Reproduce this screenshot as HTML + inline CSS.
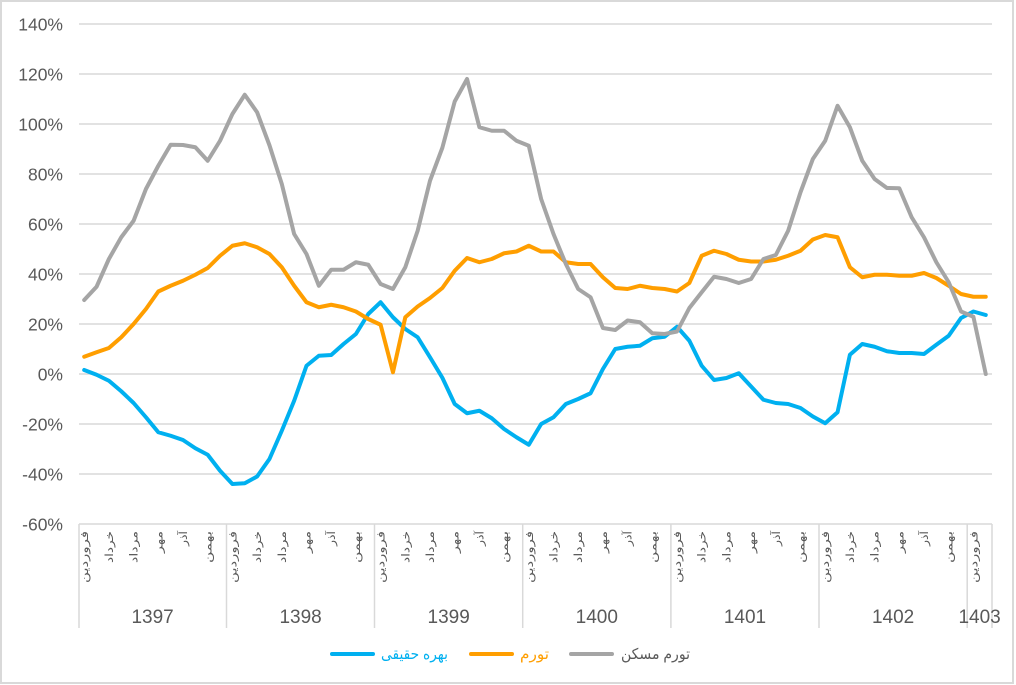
<!DOCTYPE html>
<html>
<head>
<meta charset="utf-8">
<style>
  html, body { margin: 0; padding: 0; background: #ffffff; }
  svg { display: block; }
  .yl { font-family: "Liberation Sans", "DejaVu Sans", sans-serif; font-size: 17.5px; fill: #595959; }
  .yr { font-family: "Liberation Sans", "DejaVu Sans", sans-serif; font-size: 19px; fill: #595959; }
  .mo { font-family: "Liberation Sans", "DejaVu Sans", sans-serif; font-size: 11px; fill: #595959; }
  .lg { font-family: "Liberation Sans", "DejaVu Sans", sans-serif; font-size: 15px; }
</style>
</head>
<body>
<svg width="1016" height="685" viewBox="0 0 1016 685" xmlns="http://www.w3.org/2000/svg">
  <rect x="0" y="0" width="1016" height="685" fill="#ffffff"/>
  <rect x="1" y="1" width="1012" height="682" fill="none" stroke="#d9d9d9" stroke-width="2"/>

  <!-- gridlines -->
  <g stroke="#d9d9d9" stroke-width="1.5">
    <line x1="79" y1="24" x2="992" y2="24"/>
    <line x1="79" y1="74" x2="992" y2="74"/>
    <line x1="79" y1="124" x2="992" y2="124"/>
    <line x1="79" y1="174" x2="992" y2="174"/>
    <line x1="79" y1="224" x2="992" y2="224"/>
    <line x1="79" y1="274" x2="992" y2="274"/>
    <line x1="79" y1="324" x2="992" y2="324"/>
    <line x1="79" y1="374" x2="992" y2="374"/>
    <line x1="79" y1="424" x2="992" y2="424"/>
    <line x1="79" y1="474" x2="992" y2="474"/>
    <line x1="79" y1="524" x2="992" y2="524"/>
    <!-- category group separators -->
    <line x1="79" y1="524" x2="79" y2="628"/>
    <line x1="226.5" y1="524" x2="226.5" y2="628"/>
    <line x1="374.5" y1="524" x2="374.5" y2="628"/>
    <line x1="522.7" y1="524" x2="522.7" y2="628"/>
    <line x1="670.9" y1="524" x2="670.9" y2="628"/>
    <line x1="819" y1="524" x2="819" y2="628"/>
    <line x1="967.2" y1="524" x2="967.2" y2="628"/>
    <line x1="992" y1="524" x2="992" y2="628"/>
  </g>

  <!-- y labels -->
  <g class="yl" text-anchor="end">
    <text x="63" y="30.5">140%</text>
    <text x="63" y="80.5">120%</text>
    <text x="63" y="130.5">100%</text>
    <text x="63" y="180.5">80%</text>
    <text x="63" y="230.5">60%</text>
    <text x="63" y="280.5">40%</text>
    <text x="63" y="330.5">20%</text>
    <text x="63" y="380.5">0%</text>
    <text x="63" y="430.5">-20%</text>
    <text x="63" y="480.5">-40%</text>
    <text x="63" y="530.5">-60%</text>
  </g>

  <!-- month labels (rotated) -->
  <g class="mo" text-anchor="end">
    <!-- 1397 -->
    <text transform="translate(88.2,531) rotate(-90)" textLength="52" lengthAdjust="spacingAndGlyphs">فروردین</text>
    <text transform="translate(112.9,531) rotate(-90)" textLength="32" lengthAdjust="spacingAndGlyphs">خرداد</text>
    <text transform="translate(137.6,531) rotate(-90)" textLength="32" lengthAdjust="spacingAndGlyphs">مرداد</text>
    <text transform="translate(162.3,531) rotate(-90)" textLength="22" lengthAdjust="spacingAndGlyphs">مهر</text>
    <text transform="translate(187.0,531) rotate(-90)" textLength="15" lengthAdjust="spacingAndGlyphs">آذر</text>
    <text transform="translate(211.7,531) rotate(-90)" textLength="32" lengthAdjust="spacingAndGlyphs">بهمن</text>
    <!-- 1398 -->
    <text transform="translate(236.4,531) rotate(-90)" textLength="52" lengthAdjust="spacingAndGlyphs">فروردین</text>
    <text transform="translate(261.1,531) rotate(-90)" textLength="32" lengthAdjust="spacingAndGlyphs">خرداد</text>
    <text transform="translate(285.8,531) rotate(-90)" textLength="32" lengthAdjust="spacingAndGlyphs">مرداد</text>
    <text transform="translate(310.5,531) rotate(-90)" textLength="22" lengthAdjust="spacingAndGlyphs">مهر</text>
    <text transform="translate(335.2,531) rotate(-90)" textLength="15" lengthAdjust="spacingAndGlyphs">آذر</text>
    <text transform="translate(359.9,531) rotate(-90)" textLength="32" lengthAdjust="spacingAndGlyphs">بهمن</text>
    <!-- 1399 -->
    <text transform="translate(384.6,531) rotate(-90)" textLength="52" lengthAdjust="spacingAndGlyphs">فروردین</text>
    <text transform="translate(409.3,531) rotate(-90)" textLength="32" lengthAdjust="spacingAndGlyphs">خرداد</text>
    <text transform="translate(434.0,531) rotate(-90)" textLength="32" lengthAdjust="spacingAndGlyphs">مرداد</text>
    <text transform="translate(458.7,531) rotate(-90)" textLength="22" lengthAdjust="spacingAndGlyphs">مهر</text>
    <text transform="translate(483.4,531) rotate(-90)" textLength="15" lengthAdjust="spacingAndGlyphs">آذر</text>
    <text transform="translate(508.1,531) rotate(-90)" textLength="32" lengthAdjust="spacingAndGlyphs">بهمن</text>
    <!-- 1400 -->
    <text transform="translate(532.8,531) rotate(-90)" textLength="52" lengthAdjust="spacingAndGlyphs">فروردین</text>
    <text transform="translate(557.5,531) rotate(-90)" textLength="32" lengthAdjust="spacingAndGlyphs">خرداد</text>
    <text transform="translate(582.2,531) rotate(-90)" textLength="32" lengthAdjust="spacingAndGlyphs">مرداد</text>
    <text transform="translate(606.9,531) rotate(-90)" textLength="22" lengthAdjust="spacingAndGlyphs">مهر</text>
    <text transform="translate(631.6,531) rotate(-90)" textLength="15" lengthAdjust="spacingAndGlyphs">آذر</text>
    <text transform="translate(656.3,531) rotate(-90)" textLength="32" lengthAdjust="spacingAndGlyphs">بهمن</text>
    <!-- 1401 -->
    <text transform="translate(681.0,531) rotate(-90)" textLength="52" lengthAdjust="spacingAndGlyphs">فروردین</text>
    <text transform="translate(705.7,531) rotate(-90)" textLength="32" lengthAdjust="spacingAndGlyphs">خرداد</text>
    <text transform="translate(730.4,531) rotate(-90)" textLength="32" lengthAdjust="spacingAndGlyphs">مرداد</text>
    <text transform="translate(755.1,531) rotate(-90)" textLength="22" lengthAdjust="spacingAndGlyphs">مهر</text>
    <text transform="translate(779.8,531) rotate(-90)" textLength="15" lengthAdjust="spacingAndGlyphs">آذر</text>
    <text transform="translate(804.5,531) rotate(-90)" textLength="32" lengthAdjust="spacingAndGlyphs">بهمن</text>
    <!-- 1402 -->
    <text transform="translate(829.2,531) rotate(-90)" textLength="52" lengthAdjust="spacingAndGlyphs">فروردین</text>
    <text transform="translate(853.9,531) rotate(-90)" textLength="32" lengthAdjust="spacingAndGlyphs">خرداد</text>
    <text transform="translate(878.6,531) rotate(-90)" textLength="32" lengthAdjust="spacingAndGlyphs">مرداد</text>
    <text transform="translate(903.3,531) rotate(-90)" textLength="22" lengthAdjust="spacingAndGlyphs">مهر</text>
    <text transform="translate(928.0,531) rotate(-90)" textLength="15" lengthAdjust="spacingAndGlyphs">آذر</text>
    <text transform="translate(952.7,531) rotate(-90)" textLength="32" lengthAdjust="spacingAndGlyphs">بهمن</text>
    <!-- 1403 -->
    <text transform="translate(977.4,531) rotate(-90)" textLength="52" lengthAdjust="spacingAndGlyphs">فروردین</text>
  </g>

  <!-- year labels -->
  <g class="yr" text-anchor="middle">
    <text x="152.6" y="623">1397</text>
    <text x="300.6" y="623">1398</text>
    <text x="448.7" y="623">1399</text>
    <text x="596.8" y="623">1400</text>
    <text x="745.0" y="623">1401</text>
    <text x="893.1" y="623">1402</text>
    <text x="979.6" y="623">1403</text>
  </g>

  <!-- series -->
  <g transform="translate(84.2,374) scale(12.35,-2.5)" fill="none" stroke-linejoin="round" stroke-linecap="round">
    <polyline vector-effect="non-scaling-stroke" stroke="#00B0F0" stroke-width="4"
      points="0,1.6 1,-0.3 2,-2.7 3,-6.9 4,-11.6 5,-17.3 6,-23.3 7,-24.7 8,-26.4 9,-29.7 10,-32.3 11,-38.7 12,-44 13,-43.7 14,-41 15,-34 16,-22.7 17,-10.7 18,3.3 19,7.3 20,7.6 21,12 22,16 23,24 24,28.7 25,22.7 26,18 27,14.7 28,6.7 29,-1.5 30,-12 31,-15.7 32,-14.7 33,-17.7 34,-22 35,-25.3 36,-28.3 37,-20 38,-17.3 39,-12 40,-10 41,-7.7 42,2 43,10 44,10.9 45,11.3 46,14.3 47,14.9 48,18.9 49,13.3 50,3.3 51,-2.4 52,-1.6 53,0.3 54,-5 55,-10.3 56,-11.6 57,-12 58,-13.6 59,-17 60,-19.7 61,-15.3 62,7.7 63,12 64,10.9 65,9.1 66,8.4 67,8.4 68,8 69,11.7 70,15.3 71,22.4 72,25 73,23.6"/>
    <polyline vector-effect="non-scaling-stroke" stroke="#FF9E00" stroke-width="4"
      points="0,6.9 1,8.7 2,10.4 3,14.7 4,20 5,26 6,33 7,35.3 8,37.3 9,39.7 10,42.4 11,47.3 12,51.3 13,52.3 14,50.7 15,48 16,42.7 17,35.3 18,28.7 19,26.7 20,27.7 21,26.7 22,25 23,22 24,19.7 25,0.7 26,22.7 27,27 28,30.4 29,34.4 30,41.3 31,46.4 32,44.7 33,46 34,48.3 35,49 36,51.3 37,49 38,49 39,44.7 40,44 41,44 42,38.7 43,34.4 44,34 45,35.3 46,34.4 47,34 48,33 49,36.4 50,47.3 51,49.3 52,48 53,45.7 54,45 55,45 56,45.7 57,47.3 58,49.3 59,53.8 60,55.6 61,54.7 62,42.7 63,38.7 64,39.7 65,39.7 66,39.3 67,39.3 68,40.4 69,38.4 70,35.3 71,32 72,30.9 73,30.9"/>
    <polyline vector-effect="non-scaling-stroke" stroke="#A5A5A5" stroke-width="4"
      points="0,29.6 1,34.9 2,46 3,54.7 4,61.3 5,74 6,83.3 7,91.7 8,91.6 9,90.7 10,85.3 11,93.3 12,104 13,111.7 14,104.7 15,91.5 16,76 17,56 18,48 19,35.3 20,41.7 21,41.7 22,44.7 23,43.7 24,36 25,34 26,42.7 27,57.3 28,77.3 29,90.5 30,109 31,118 32,98.7 33,97.3 34,97.3 35,93.3 36,91.3 37,70 38,56 39,44 40,34 41,30.7 42,18.4 43,17.6 44,21.4 45,20.7 46,16.3 47,16 48,17 49,26.4 50,32.7 51,38.9 52,38 53,36.4 54,38 55,46 56,47.6 57,57.3 58,72.7 59,86 60,93.3 61,107.3 62,98.7 63,85.3 64,78 65,74.4 66,74.3 67,62.7 68,54.7 69,44.7 70,36.7 71,25 72,22.9 73,0"/>
  </g>

  <!-- legend -->
  <g stroke-width="4" stroke-linecap="round">
    <line x1="332" y1="654" x2="373" y2="654" stroke="#00B0F0"/>
    <line x1="471" y1="654" x2="512" y2="654" stroke="#FF9E00"/>
    <line x1="571" y1="654" x2="612" y2="654" stroke="#A5A5A5"/>
  </g>
  <text class="lg" x="381" y="659" fill="#00B0F0" textLength="67" lengthAdjust="spacingAndGlyphs">بهره حقیقی</text>
  <text class="lg" x="520" y="659" fill="#FF9E00" textLength="29" lengthAdjust="spacingAndGlyphs">تورم</text>
  <text class="lg" x="621" y="659" fill="#595959" textLength="69" lengthAdjust="spacingAndGlyphs">تورم مسکن</text>
</svg>
</body>
</html>
